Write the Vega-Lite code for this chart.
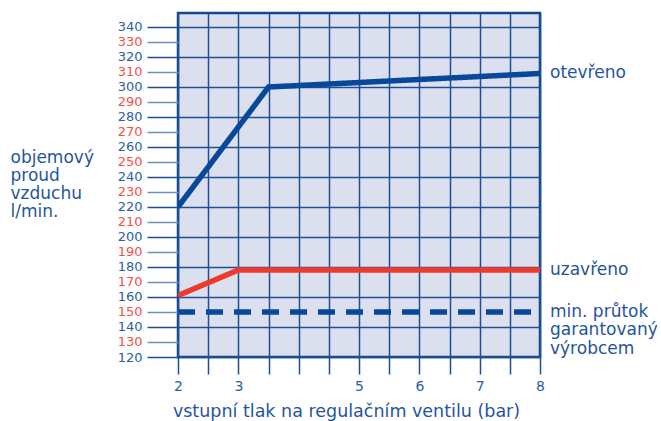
{
  "$schema": "https://vega.github.io/schema/vega-lite/v6.json",
  "width": 362,
  "height": 344,
  "autosize": {"type": "none"},
  "padding": {"left": 178, "top": 13, "right": 121, "bottom": 64},
  "background": "#ffffff",
  "config": {
    "font": "DejaVu Sans",
    "view": {"fill": "#dcdfee", "stroke": "#0f4a91", "strokeWidth": 2.5}
  },
  "encoding": {
    "x": {
      "field": "p", "type": "quantitative",
      "scale": {"domain": [2, 8], "nice": false, "zero": false},
      "axis": {
        "values": [2, 2.5, 3, 3.5, 4, 4.5, 5, 5.5, 6, 6.5, 7, 7.5, 8],
        "format": "~g",
        "grid": true, "gridColor": "#1c4f94", "gridWidth": 1.5,
        "domain": false,
        "tickSize": 17, "tickColor": "#1c4f94", "tickWidth": 1.5,
        "labelExpr": "(datum.value % 1 === 0 && datum.value !== 4) ? datum.label : ''",
        "labelColor": "#2d5fa0", "labelFontSize": 14, "labelPadding": 5,
        "labelFlush": false, "labelOverlap": false,
        "title": "vstupní tlak na regulačním ventilu (bar)",
        "titleFontSize": 17.5, "titleFontWeight": "normal", "titleColor": "#1f55a0",
        "titleX": 168, "titleY": 54, "titleAlign": "center", "titleBaseline": "middle"
      }
    },
    "y": {
      "field": "q", "type": "quantitative",
      "scale": {"domain": [120, 349.333], "nice": false, "zero": false},
      "axis": {
        "values": [120, 130, 140, 150, 160, 170, 180, 190, 200, 210, 220, 230, 240, 250, 260, 270, 280, 290, 300, 310, 320, 330, 340],
        "format": "d",
        "grid": true, "gridColor": "#1c4f94", "gridWidth": 1.5,
        "gridOpacity": {"condition": {"test": "datum.value % 20 === 0", "value": 1}, "value": 0},
        "domain": false,
        "tickSize": 31, "tickWidth": 1.5,
        "tickColor": {"condition": {"test": "datum.value % 20 === 0", "value": "#1c4f94"}, "value": "#6f8fbd"},
        "labelColor": {"condition": {"test": "datum.value % 20 === 0", "value": "#2d5fa0"}, "value": "#f2504a"},
        "labelFontSize": 13, "labelPadding": 5, "labelOverlap": false, "labelFlush": false,
        "title": ["objemový", "proud", "vzduchu", "l/min."],
        "titleFontSize": 17, "titleFontWeight": "normal", "titleColor": "#1f55a0",
        "titleAngle": 0, "titleAlign": "left", "titleBaseline": "top",
        "titleX": -168, "titleY": 136, "titleLineHeight": 18
      }
    }
  },
  "layer": [
    {
      "data": {
        "values": [
          {"p": 2, "q": 220, "series": "otevřeno"},
          {"p": 3.5, "q": 300, "series": "otevřeno"},
          {"p": 8, "q": 309, "series": "otevřeno"},
          {"p": 2, "q": 161, "series": "uzavřeno"},
          {"p": 3, "q": 178, "series": "uzavřeno"},
          {"p": 8, "q": 178, "series": "uzavřeno"},
          {"p": 2, "q": 150, "series": "min"},
          {"p": 8, "q": 150, "series": "min"}
        ]
      },
      "mark": {"type": "line", "strokeWidth": 5.5, "strokeCap": "butt", "strokeJoin": "miter", "clip": true},
      "encoding": {
        "detail": {"field": "series"},
        "color": {
          "field": "series", "type": "nominal",
          "scale": {"domain": ["otevřeno", "uzavřeno", "min"], "range": ["#08489a", "#ee3a2c", "#08489a"]},
          "legend": null
        },
        "strokeDash": {
          "field": "series", "type": "nominal",
          "scale": {"domain": ["otevřeno", "uzavřeno", "min"], "range": [[1, 0], [1, 0], [17, 11]]},
          "legend": null
        }
      }
    },
    {
      "data": {
        "values": [
          {"p": 8, "q": 309, "label": "otevřeno"},
          {"p": 8, "q": 178, "label": "uzavřeno"},
          {"p": 8, "q": 150, "label": "min. průtok\ngarantovaný\nvýrobcem"}
        ]
      },
      "mark": {"type": "text", "align": "left", "baseline": "top", "dx": 10, "dy": -8, "fontSize": 17, "color": "#1f55a0", "lineBreak": "\n", "lineHeight": 18.5},
      "encoding": {
        "text": {"field": "label"}
      }
    }
  ]
}
